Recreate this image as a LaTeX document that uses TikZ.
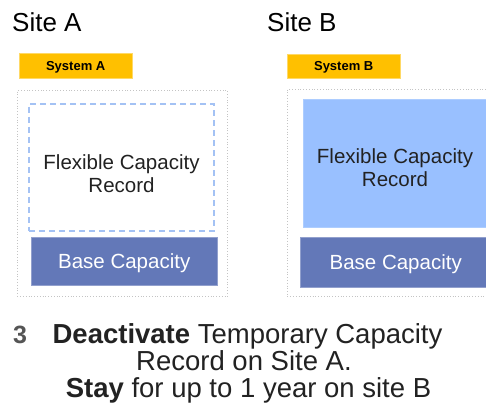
\documentclass[tikz,border=0pt]{standalone}
\usepackage{fontspec}
\setmainfont{Liberation Sans}
\definecolor{sysyellow}{HTML}{FFC000}
\definecolor{flexblue}{HTML}{99C0FF}
\definecolor{dashblue}{HTML}{A4C2F4}
\definecolor{basecol}{HTML}{6378B8}
\definecolor{outergray}{HTML}{C4C4C4}
\definecolor{txtdark}{HTML}{222222}
\definecolor{numgray}{HTML}{555555}
\begin{document}
\begin{tikzpicture}[x=1pt,y=-1pt,
  capbox/.style={inner sep=0pt, anchor=north west, text depth=0pt, align=center},
  sitelabel/.style={inner sep=0pt, anchor=base west, font=\fontsize{26}{31}\selectfont},
  sysbox/.style={capbox, text height=9.3pt, fill=sysyellow, draw=sysyellow!60!white, line width=0.4pt, font=\fontsize{13}{15}\selectfont\bfseries},
  outerbox/.style={inner sep=0pt, anchor=north west, draw=outergray, line width=0.8pt, dotted},
  dashbox/.style={inner sep=0pt, anchor=north west, draw=dashblue, line width=1.8pt, dash pattern=on 6pt off 4pt},
  flexbox/.style={inner sep=0pt, anchor=north west, fill=flexblue, draw=flexblue!80!white, line width=0.4pt},
  basebox/.style={capbox, text height=14.7pt, fill=basecol, draw=basecol!70!white, line width=0.4pt, text=white, font=\fontsize{20.5}{23.5}\selectfont},
  flextext/.style={inner sep=0pt, align=center, text=txtdark, font=\fontsize{20.5}{23.5}\selectfont},
  bottomline/.style={inner sep=0pt, anchor=base, text=txtdark, font=\fontsize{27.5}{27}\selectfont}
]
\clip (0,0) rectangle (486,411);
\fill[white] (0,0) rectangle (486,411);

% Site A
\node[sitelabel] (siteA) at (12,32) {Site A};
\node[sysbox, minimum width=113pt, minimum height=25pt] (sysA) at (19,53) {System A};
\node[outerbox, minimum width=210pt, minimum height=206pt] (outerA) at (17,90) {};
\node[dashbox, minimum width=185pt, minimum height=127pt] (flexA) at (28,103) {};
\node[flextext] (flexAtxt) at (121.5,173.5) {Flexible Capacity\\Record};
\node[basebox, minimum width=186pt, minimum height=48pt] (baseA) at (31,237) {Base Capacity};

% Site B
\node[sitelabel] (siteB) at (267,32) {Site B};
\node[sysbox, minimum width=113pt, minimum height=24pt] (sysB) at (287,54) {System B};
\node[outerbox, minimum width=217pt, minimum height=207pt] (outerB) at (287,89) {};
\node[flexbox, minimum width=184pt, minimum height=128pt] (flexB) at (303,99) {};
\node[flextext] (flexBtxt) at (395,167.5) {Flexible Capacity\\Record};
\node[basebox, minimum width=191pt, minimum height=50pt] (baseB) at (300,237) {Base Capacity};

% Bottom text
\node[inner sep=0pt, anchor=base west, text=numgray, font=\fontsize{25}{27}\selectfont\bfseries] (num) at (13,343) {3};
\node[bottomline] (l1) at (247.5,343) {\textbf{Deactivate} Temporary Capacity};
\node[bottomline] (l2) at (244,370) {Record on Site A.};
\node[bottomline] (l3) at (248.5,397) {\textbf{Stay} for up to 1 year on site B};
\end{tikzpicture}
\end{document}
